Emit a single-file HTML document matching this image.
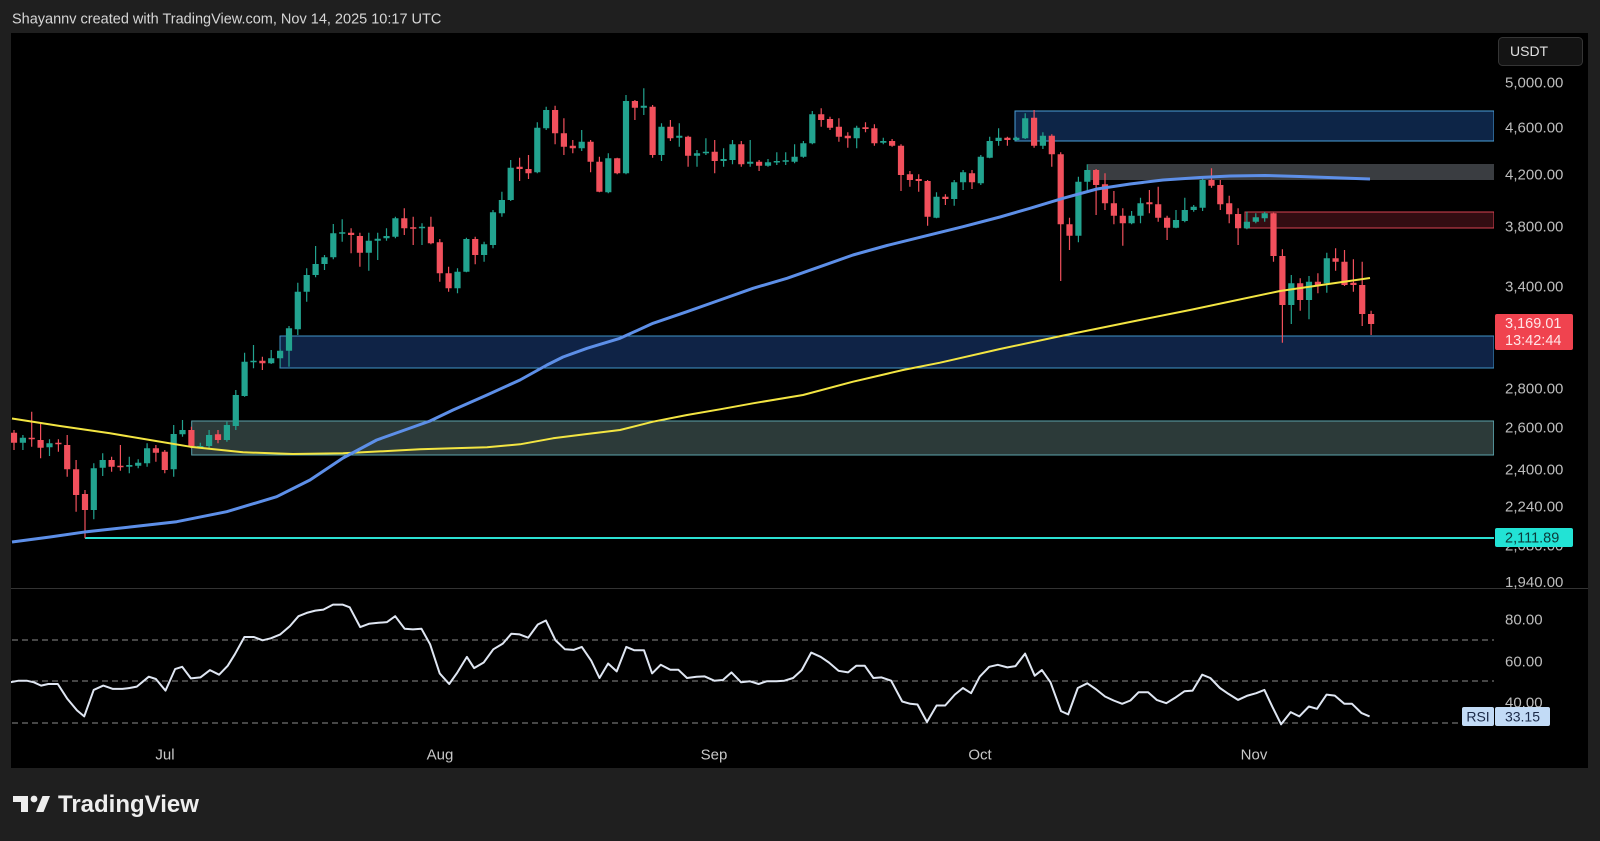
<!DOCTYPE html>
<html><head><meta charset="utf-8"><style>
html,body{margin:0;padding:0;background:#1f1f1f;width:1600px;height:841px;overflow:hidden}
svg{display:block}
text{font-family:"Liberation Sans",Arial,sans-serif}
</style></head><body>
<svg width="1600" height="841" viewBox="0 0 1600 841" xmlns="http://www.w3.org/2000/svg">
<defs>
<clipPath id="cp"><rect x="11" y="33" width="1483" height="555"/></clipPath>
<clipPath id="cr"><rect x="11" y="589" width="1483" height="160"/></clipPath>
</defs>
<rect x="0" y="0" width="1600" height="841" fill="#1f1f1f"/>
<text x="12" y="23.5" font-size="14.5" fill="#d6d6d6">Shayannv created with TradingView.com, Nov 14, 2025 10:17 UTC</text>
<rect x="11" y="33" width="1577" height="735" fill="#000"/>
<line x1="11" y1="588.5" x2="1588" y2="588.5" stroke="#333" stroke-width="1"/>

<g clip-path="url(#cp)">
<!-- zones -->
<rect x="191.7" y="421" width="1302" height="34" fill="#2c3a39" stroke="#5ba3ab" stroke-width="1"/>
<rect x="280" y="336" width="1214" height="32" fill="#0f2346" stroke="#4095c8" stroke-width="1"/>
<rect x="1015" y="111" width="479" height="30" fill="#0d2547" stroke="#4a9fd8" stroke-width="1"/>
<rect x="1088" y="164" width="406" height="16" fill="#3a3d41"/>
<rect x="1245" y="212" width="249" height="16" fill="#330d12" stroke="#d94452" stroke-width="1"/>
<line x1="85" y1="538" x2="1494" y2="538" stroke="#2be0d2" stroke-width="2"/>

<!-- green candles -->
<path fill="none" stroke="#22a38f" stroke-width="1.2" d="M22.9 435V450 M49.5 439.3V456 M93.8 463.3V519.3 M102.7 453.3V476 M129.3 456.7V473.3 M138.2 459.3V468.3 M147.1 443.3V466.7 M173.7 425V476.7 M182.5 420V436.7 M200.3 442.7V448.3 M209.1 430V448.3 M226.9 421.7V441.7 M235.8 390V430 M244.6 352.7V396.7 M253.5 345V368.3 M271.2 350V364 M280.1 349.3V366.7 M289 326V366.7 M297.8 282.7V335 M306.7 268.3V301.7 M315.6 246V277.3 M324.5 255V270 M333.3 224V259.3 M342.2 219.3V241.7 M368.8 232.7V270.7 M377.7 232.7V260 M386.5 228.3V240.7 M395.4 216.7V238.3 M422 223.3V245 M457.5 268.3V293.3 M466.4 237.7V272.3 M484.1 241.7V261.7 M493 210V248.3 M501.9 191.7V216.7 M510.7 160V201 M537.3 122.3V173.3 M546.2 106.7V130 M581.7 130V151 M608.3 153.3V193.3 M626 95V174.3 M643.8 88.3V115 M661.5 123.3V161 M679.3 123.3V146.7 M697 150V166.7 M705.9 138.3V155 M723.6 148.3V166.7 M732.5 140V164.3 M750.2 140V166.7 M768 159V166.7 M776.8 152.3V165 M785.7 152.3V165 M794.6 144.3V163.3 M803.4 141V157.7 M812.3 111V144.3 M856.7 125.7V148.3 M883.3 137.7V144.3 M936.5 192.3V218.3 M954.2 180V205.7 M963.1 170V190 M980.8 155V185 M989.7 136.7V158.3 M998.6 128.3V145.7 M1016.3 136.7V141 M1025.2 113.3V139 M1042.9 132.3V149 M1078.4 176.7V242.3 M1087.3 164.3V191 M1131.6 211V224.3 M1140.5 197.7V223.3 M1176 210V228.3 M1184.8 197.7V222.3 M1193.7 205V211.7 M1202.6 177.7V211 M1246.9 211.7V229.3 M1255.8 213.3V223.3 M1264.7 211.7V221.7 M1291.3 275V324 M1309 276V319.3 M1326.8 252.7V292.7"/>
<path fill="none" stroke="#22a38f" stroke-width="6.2" d="M22.9 437.7V442.7 M49.5 443.3V447.3 M93.8 468.3V510 M102.7 460V467.7 M129.3 465V466.7 M138.2 462.7V465.7 M147.1 448.3V463.3 M173.7 434V469.3 M182.5 430V434.3 M200.3 446V447.5 M209.1 435V446 M226.9 425V440 M235.8 395V426 M244.6 361.7V396 M253.5 360.7V362.2 M271.2 358.3V363.3 M280.1 350.7V358.3 M289 328.3V350.7 M297.8 291.7V329.3 M306.7 275V291.7 M315.6 264V275 M324.5 257.3V264 M333.3 233.3V257.3 M342.2 232.3V233.8 M368.8 240.7V252.7 M377.7 238.7V240.7 M386.5 236V238.3 M395.4 218.3V236.7 M422 226.7V228.3 M457.5 271.7V288.3 M466.4 239V271.7 M484.1 244.3V255 M493 212.3V245 M501.9 200V213.3 M510.7 167.7V200 M537.3 127.7V172.3 M546.2 110V128.3 M581.7 141.7V148.3 M608.3 158.3V192.3 M626 101V173.3 M643.8 105.7V107.7 M661.5 126.7V155 M679.3 135.7V137.7 M697 153.3V155.7 M705.9 151.7V153.3 M723.6 159V161 M732.5 144.3V160 M750.2 161.7V163.7 M768 162.3V165.7 M776.8 161V162.5 M785.7 160.3V161.8 M794.6 156.7V161.7 M803.4 143.3V156.7 M812.3 114.3V143.3 M856.7 127.7V138.3 M883.3 141V142.7 M936.5 196.7V217.7 M954.2 182.3V199 M963.1 172.3V182.3 M980.8 156.7V183.3 M989.7 141V157.7 M998.6 137.7V141 M1016.3 137.7V140 M1025.2 118.3V138.3 M1042.9 135.7V145.7 M1078.4 181.7V235.7 M1087.3 170V181.7 M1131.6 215.7V223.3 M1140.5 203.3V215.7 M1176 220V227.7 M1184.8 210V221 M1193.7 206.7V210 M1202.6 180V207.7 M1246.9 221.7V228.3 M1255.8 217.3V221.7 M1264.7 213.3V218.3 M1291.3 283.3V305 M1309 281.7V300 M1326.8 258.3V283.3"/>

<!-- red candles -->
<path fill="none" stroke="#f1505c" stroke-width="1.2" d="M14 430V450 M31.7 411.7V446.7 M40.6 424V458.3 M58.4 439.3V451.7 M67.2 435V476.7 M76.1 460V511.7 M85 490V538.3 M111.6 456.7V471.7 M120.4 445V470.7 M155.9 445V461.7 M164.8 450V473.3 M191.4 426.7V448.3 M218 430V443.3 M262.4 356.7V370 M351.1 228.3V253.3 M359.9 232.7V266.7 M404.3 208.3V235 M413.2 216.7V245 M430.9 216.7V244.3 M439.8 239V281.7 M448.6 266.7V291.7 M475.2 236.7V264.3 M519.6 157.7V181 M528.5 155V179 M555.1 105.7V144.3 M563.9 118.3V155 M572.8 140V153.3 M590.6 140V172.3 M599.4 156.7V192.3 M617.2 157.7V174.3 M634.9 100V120 M652.6 105V157.7 M670.4 120V141 M688.1 135.7V166.7 M714.7 140V173.3 M741.3 141V166.7 M759.1 160V171 M821.2 108.3V126.7 M830 116.7V130 M838.9 118.3V141.7 M847.8 132.3V147.7 M865.5 122.3V132.3 M874.4 124.3V145.7 M892.1 139V146.7 M901 144.3V191 M909.9 171V186.7 M918.7 174.3V191.7 M927.6 180V225.7 M945.4 194.3V205 M972 170V189 M1007.4 136.7V145.7 M1034.1 110V147.7 M1051.8 134.3V166.7 M1060.7 152.3V281 M1069.5 217.7V250 M1096.1 169V215 M1105 173.3V210 M1113.9 191V224.3 M1122.8 208.3V245.7 M1149.4 190V213.3 M1158.2 186.7V221.7 M1167.1 215.7V240 M1211.5 168.3V187.7 M1220.3 180V210 M1229.2 195.7V223.3 M1238.1 208.3V245 M1273.5 212.7V261.7 M1282.4 249.3V342.7 M1300.2 278.3V310.7 M1317.9 273.3V293.3 M1335.6 248.3V270.7 M1344.5 250V286 M1353.4 259.3V291.7 M1362.2 261.7V326 M1371.1 310.7V335"/>
<path fill="none" stroke="#f1505c" stroke-width="6.2" d="M14 432.7V442.7 M31.7 437.7V439.3 M40.6 440V447.7 M58.4 442.7V444.2 M67.2 445V469.3 M76.1 469.3V495 M85 494V510 M111.6 460V466.7 M120.4 465.7V467.2 M155.9 448.3V452.7 M164.8 451.7V470 M191.4 430V446 M218 434.3V440 M262.4 360.7V363.3 M351.1 232.7V235 M359.9 236V252.7 M404.3 218.3V228.3 M413.2 227.3V228.8 M430.9 226.7V243.3 M439.8 242.3V273.3 M448.6 273.3V288.3 M475.2 239V255 M519.6 166.7V169 M528.5 169V173.3 M555.1 110V133.3 M563.9 133.3V146.7 M572.8 145.7V148.3 M590.6 141.7V161.7 M599.4 161.7V191.7 M617.2 158.3V173.3 M634.9 101V107.7 M652.6 106.7V155 M670.4 126.7V138.3 M688.1 136.7V155.7 M714.7 151.7V161 M741.3 144.3V164.3 M759.1 161.7V165.7 M821.2 114.3V120 M830 119V127.7 M838.9 126.7V136.7 M847.8 135.7V138.3 M865.5 127.3V129 M874.4 128.3V143.3 M892.1 141V145.7 M901 145.7V175 M909.9 174.3V180 M918.7 179V181 M927.6 181V216.7 M945.4 196.7V199 M972 173.3V182.3 M1007.4 137.7V140 M1034.1 117.7V145.7 M1051.8 135.7V154.3 M1060.7 154.3V224.3 M1069.5 224.3V235.7 M1096.1 170V185 M1105 184.3V203.3 M1113.9 203.3V215.7 M1122.8 215.7V223.3 M1149.4 202.3V204.3 M1158.2 204.3V217.7 M1167.1 217.7V227.7 M1211.5 180V185.7 M1220.3 185V204.3 M1229.2 203.3V214.3 M1238.1 214V228.3 M1273.5 213.3V256 M1282.4 256V305 M1300.2 283.3V300 M1317.9 281.7V286 M1335.6 258.3V261.7 M1344.5 261.7V285 M1353.4 282.7V285 M1362.2 285V314 M1371.1 314V324"/>

<!-- moving averages -->
<polyline fill="none" stroke="#f3e542" stroke-width="2" stroke-linejoin="round" points="12,418.5 60,426 110,433.3 150,440 190,446.7 243,452.3 293,454 343,453.3 420,449.3 487,447.3 520,444.3 553,438.3 587,434 620,430 653,421.7 687,415 720,409.3 753,403.3 803,395 853,381.7 903,370 940,362.7 1000,349 1061,336 1130,322 1190,310 1280,291 1370,278"/>
<polyline fill="none" stroke="#5d8fe8" stroke-width="3" stroke-linejoin="round" points="12,542 50,537 86.7,531.7 130,527 176.7,521.7 226.7,511.7 276.7,496.7 310,480 343,458 376.7,440 430,421 453,410 487,395 520,380 547,365 563,357 587,348.3 620,338.3 653,323.3 687,311.7 720,300 753,288.3 787,278.3 820,266.7 853,255 887,245.5 920,237.3 963,226.7 1000,217 1030,208.3 1063,198.3 1097,189 1130,184 1163,180 1200,177.5 1230,176 1265,175.5 1300,176.5 1370,179"/>
</g>

<!-- RSI pane -->
<g clip-path="url(#cr)">
<g stroke="#8c8c8c" stroke-width="1" stroke-dasharray="6 4">
<line x1="12" y1="640" x2="1494" y2="640"/>
<line x1="12" y1="681" x2="1494" y2="681"/>
<line x1="12" y1="723" x2="1494" y2="723"/>
</g>
<polyline fill="none" stroke="#dfe6f2" stroke-width="2" stroke-linejoin="round" points="10,682.3 18.6,680.7 26.7,680.7 33.9,682.3 41.1,685.6 48.3,684 57.8,684 67.4,698.9 77,710.4 84.2,716.4 93.7,689.9 103.3,685.6 112.9,688.9 122.4,688.9 129.6,688 136.8,686.6 148.8,676.7 155.9,679 165.5,690.6 175.1,669.1 182.2,666.8 190.9,678.4 200.4,677.4 210,670.1 219.1,674.7 227.7,665.8 234.9,654.2 244.4,637 254,637 262.6,640.3 270.8,638.3 280.3,634.4 289.9,626.1 298.5,616.2 306.7,612.9 315.3,610.6 323.4,609.6 333,604.6 342.5,604.6 349.7,607.3 360.2,627.1 368.9,623.8 378.4,622.8 387,622.1 395.2,616.2 404.7,628.8 412.9,629.4 421.5,628.8 430.1,644.3 439.7,673.4 449.2,684 457.4,672.4 466.9,656.9 474.1,668.1 483.7,662.5 493.3,649.3 502.8,643.6 511.4,633.7 519.6,634.4 528.2,637.7 537.8,624.5 545.9,620.5 555.5,640.3 565,649.3 573.6,649.9 581.8,646.9 591.3,660.8 599.5,678 608.1,663.5 616.7,671.4 626.3,646.9 634.4,650.3 644,650.3 652.1,673.4 660.7,664.8 670.3,669.8 678.4,669.8 687,678 696.6,676.7 704.7,676.4 714.3,680.7 722.9,680 731.5,672.4 741.1,682.3 750,681.3 758.6,684 766.7,681.3 776.3,681.3 784.4,680.7 793.1,678 801.7,670.1 811.2,652.6 820.8,656.9 828.9,662.5 838.5,670.8 848.1,672.4 856.2,665.8 864.8,665.8 873.4,678 881.6,677.4 891.1,680.7 902.2,701.5 910.3,703.8 917.5,704.5 927,722 936.6,705.5 945.2,705.5 954.8,694.6 962.9,688 971.1,693.2 979.7,676.7 989.2,666.8 997.8,664.8 1007.4,667.4 1015.5,666.1 1025.1,653.6 1034.7,675.7 1041.9,670.1 1050.5,682.3 1061,711.1 1068.2,714.4 1077.8,688 1087.3,683.3 1095.5,688.9 1105,696.5 1113.6,700.5 1122.2,703.8 1130.4,700.5 1138.5,692.3 1148.1,692.3 1156.7,699.9 1166.3,703.2 1174.9,697.9 1184.4,691.3 1192.6,690.6 1202.2,674.7 1210.3,678 1219.9,688 1228.5,693.9 1238,699.9 1247.6,695.6 1256.2,693.2 1264.4,689.9 1272.5,707.1 1281.1,724.3 1290.7,712.1 1299.3,716.4 1308.9,706.5 1317,708.8 1326.6,694.6 1334.8,695.6 1344.3,703.8 1352,703.8 1361.6,713.1 1369.6,716.4"/>
</g>

<!-- price axis -->
<g font-size="15" fill="#bdbdbd">
<text x="1505" y="87.5">5,000.00</text>
<text x="1505" y="132.5">4,600.00</text>
<text x="1505" y="179.5">4,200.00</text>
<text x="1505" y="231.5">3,800.00</text>
<text x="1505" y="291.5">3,400.00</text>
<text x="1505" y="393.5">2,800.00</text>
<text x="1505" y="432.5">2,600.00</text>
<text x="1505" y="474.5">2,400.00</text>
<text x="1505" y="511.5">2,240.00</text>
<text x="1505" y="550.5">2,080.00</text>
<text x="1505" y="587">1,940.00</text>
<text x="1505" y="624.5">80.00</text>
<text x="1505" y="666.5">60.00</text>
<text x="1505" y="707.5">40.00</text>
</g>

<!-- USDT -->
<rect x="1498.5" y="37.5" width="84" height="28" rx="4" fill="#141414" stroke="#353535"/>
<text x="1510" y="56" font-size="14" fill="#e0e0e0">USDT</text>

<!-- last price label -->
<rect x="1495" y="314" width="78" height="36" rx="2" fill="#f0434f"/>
<text x="1505" y="328" font-size="14.5" fill="#ffe6e8">3,169.01</text>
<text x="1505" y="345" font-size="14.5" fill="#ffe6e8">13:42:44</text>

<!-- 2111.89 label -->
<rect x="1495" y="528" width="78" height="19" rx="2" fill="#22e3d5"/>
<text x="1505" y="542.5" font-size="14.5" fill="#0b3b3a">2,111.89</text>

<!-- RSI label -->
<rect x="1462" y="707" width="32" height="19" rx="2" fill="#c2dbf6"/>
<rect x="1495" y="707" width="55" height="19" rx="2" fill="#c2dbf6"/>
<text x="1478" y="721.5" font-size="14" fill="#1b2a48" text-anchor="middle">RSI</text>
<text x="1522.5" y="721.5" font-size="14" fill="#1b2a48" text-anchor="middle">33.15</text>

<!-- date axis -->
<g font-size="15" fill="#c8c8c8" text-anchor="middle">
<text x="165" y="759.5">Jul</text>
<text x="440" y="759.5">Aug</text>
<text x="714" y="759.5">Sep</text>
<text x="980" y="759.5">Oct</text>
<text x="1254" y="759.5">Nov</text>
</g>

<!-- TradingView logo -->
<g fill="#eeeeee">
<rect x="13" y="796" width="15" height="6"/>
<rect x="21" y="796" width="7" height="16"/>
<circle cx="34" cy="799" r="3.4"/>
<polygon points="36,812 43.5,812 50,796 42.5,796"/>
</g>
<text x="58" y="812" font-size="24" font-weight="bold" fill="#eeeeee">TradingView</text>
</svg>
</body></html>
